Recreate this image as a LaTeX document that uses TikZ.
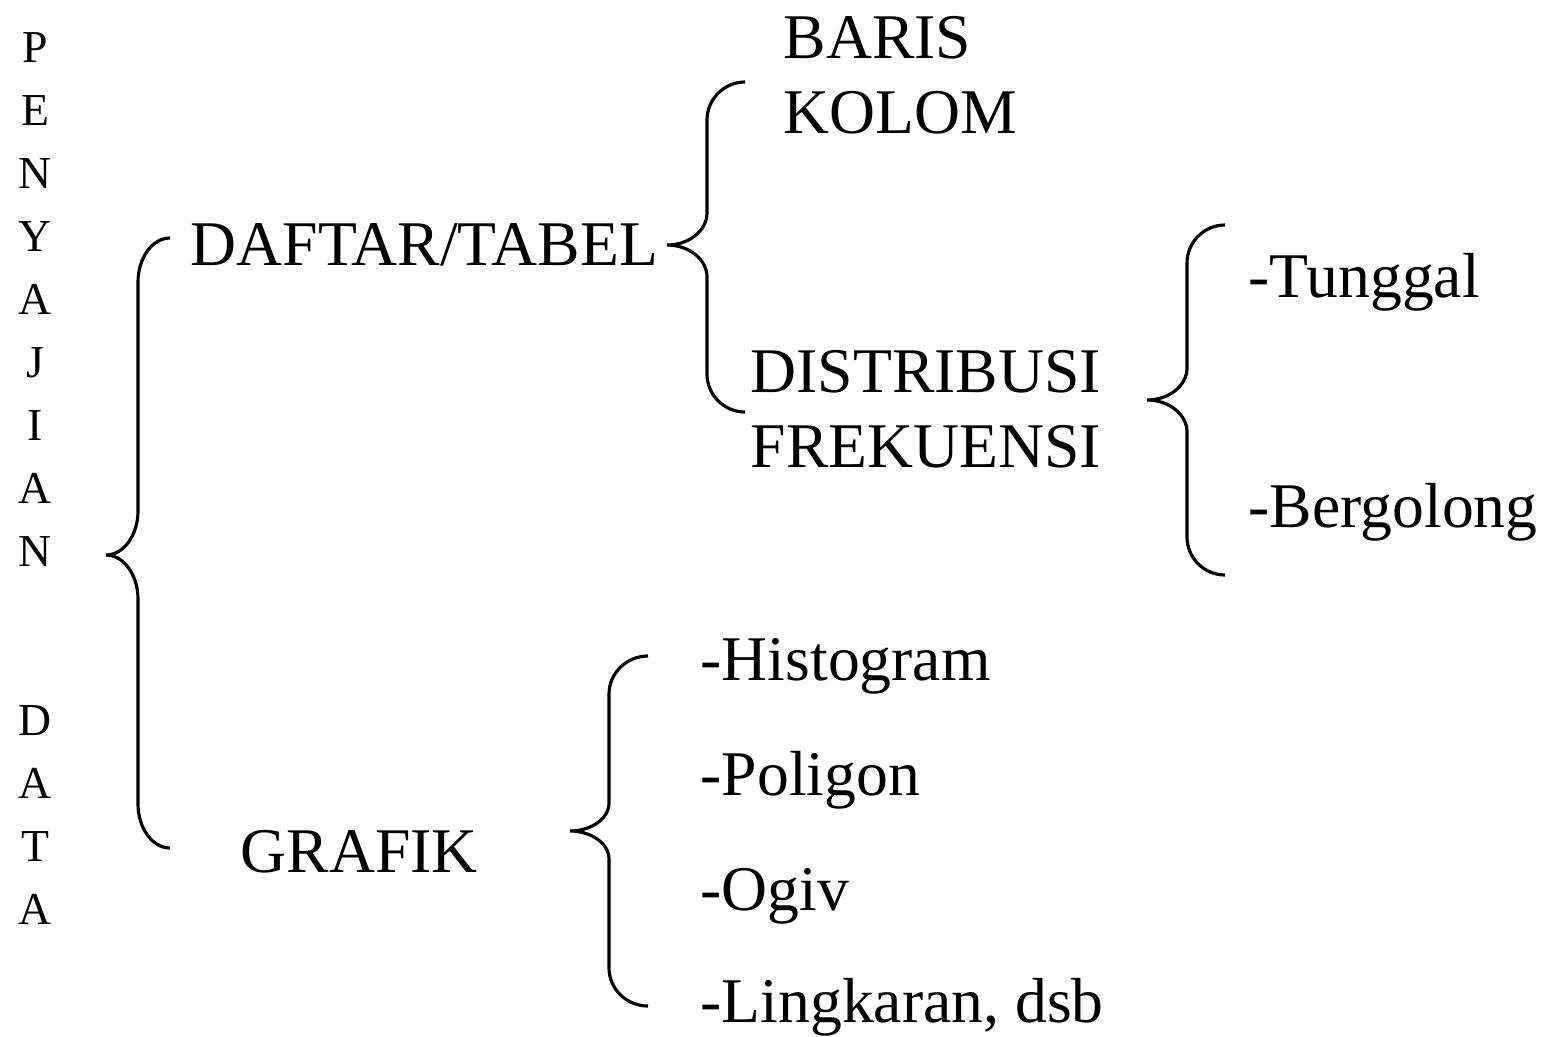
\documentclass[tikz,border=0pt]{standalone}
\usepackage{fontspec}
\setmainfont{Liberation Serif}
\newcommand{\mybrace}[8]{%
% #1 end x, #2 vertical x, #3 tip x, #4 top y, #5 tip y, #6 bottom y, #7 end radius, #8 middle radius
\pgfmathsetmacro{\bdx}{#1-#2}%
\pgfmathsetmacro{\bmx}{#2-#3}%
\draw[bracestyle] (#1,#4) .. controls ({#1-0.55*\bdx},#4) and (#2,{#4+0.45*#7}) .. (#2,{#4+#7})
  -- (#2,{#5-#8}) .. controls (#2,{#5-0.45*#8}) and ({#3+0.55*\bmx},#5) .. (#3,#5)
  .. controls ({#3+0.55*\bmx},#5) and (#2,{#5+0.45*#8}) .. (#2,{#5+#8})
  -- (#2,{#6-#7}) .. controls (#2,{#6-0.45*#7}) and ({#1-0.55*\bdx},#6) .. (#1,#6);}
\tikzset{
  bracestyle/.style={draw=black,line width=0.9pt},
  lbl/.style={anchor=base west,inner sep=0pt,font=\fontsize{18.1pt}{20pt}\selectfont},
  vlet/.style={anchor=base,inner sep=0pt,font=\fontsize{13pt}{14pt}\selectfont}
}
\begin{document}
\begin{tikzpicture}[x=0.01cm,y=-0.01cm]
\useasboundingbox (0,0) rectangle (1555,1036);
% vertical title
\foreach \L/\yy [count=\i] in {P/62,E/125,N/188,Y/251,A/314,J/377,I/440,A/503,N/566,D/735,A/798,T/861,A/924}
  \node[vlet] (v\i) at (35,\yy) {\L};
% labels
\node[lbl] (baris) at (783,58) {BARIS};
\node[lbl] (kolom) at (783,133) {KOLOM};
\node[lbl] (daftar) at (190,265) {DAFTAR/TABEL};
\node[lbl] (distri) at (750,392) {DISTRIBUSI};
\node[lbl] (frek) at (750,467) {FREKUENSI};
\node[lbl] (tunggal) at (1248,297) {-Tunggal};
\node[lbl] (bergol) at (1248,527) {-Bergolong};
\node[lbl] (grafik) at (240,872) {GRAFIK};
\node[lbl] (histo) at (700,680) {-Histogram};
\node[lbl] (poli) at (700,795) {-Poligon};
\node[lbl] (ogiv) at (700,910) {-Ogiv};
\node[lbl] (lingk) at (700,1022) {-Lingkaran, dsb};
% braces
\mybrace{170}{138}{106}{238}{555}{848}{44}{44}
\mybrace{745}{707}{667}{82}{245}{412}{38}{32}
\mybrace{1225}{1187}{1147}{225}{400}{575}{38}{32}
\mybrace{648}{609}{570}{656}{831}{1006}{38}{28}
\end{tikzpicture}
\end{document}
